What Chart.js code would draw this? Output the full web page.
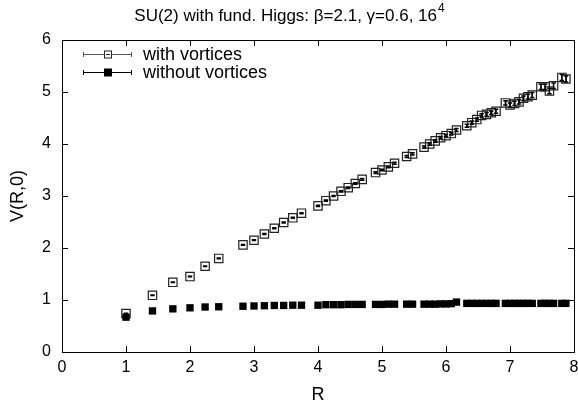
<!DOCTYPE html>
<html>
<head>
<meta charset="utf-8">
<script src="https://cdn.jsdelivr.net/npm/chart.js@4.4.0/dist/chart.umd.min.js"></script>
<style>
  html, body { margin: 0; padding: 0; background: #fff; }
  #wrap { width: 578px; height: 416px; }
</style>
</head>
<body>
<div id="wrap"><canvas id="potChart" width="578" height="416"></canvas></div>
<script>
// chart data
const titleText = 'SU(2) with fund. Higgs: \u03b2=2.1, \u03b3=0.6, 16';
const titleSup = '4';
const xLabel = 'R';
const yLabel = 'V(R,0)';
const seriesNames = ['with vortices', 'without vortices'];
const xTicks = [0, 1, 2, 3, 4, 5, 6, 7, 8];
const yTicks = [0, 1, 2, 3, 4, 5, 6];

const radii = [1, 1.414, 1.732, 2, 2.236, 2.449, 2.828, 3, 3.162, 3.317, 3.464, 3.606, 3.742,
  4, 4.123, 4.243, 4.359, 4.472, 4.583, 4.690, 4.899, 5, 5.099, 5.196, 5.385, 5.477,
  5.657, 5.745, 5.831, 5.916, 6, 6.083, 6.164, 6.325, 6.403, 6.481, 6.557, 6.633, 6.708,
  6.782, 6.928, 7, 7.071, 7.141, 7.211, 7.280, 7.348, 7.483, 7.550, 7.616, 7.681, 7.810, 7.874];

const withVortices = [0.74, 1.09, 1.34, 1.45, 1.65, 1.80, 2.06, 2.15, 2.27, 2.38, 2.49, 2.58, 2.67,
  2.81, 2.91, 3.00, 3.09, 3.16, 3.24, 3.32, 3.45, 3.50, 3.56, 3.63, 3.76, 3.81,
  3.94, 4.00, 4.06, 4.12, 4.16, 4.20, 4.27, 4.35, 4.41, 4.47, 4.55, 4.57, 4.60,
  4.63, 4.79, 4.75, 4.78, 4.81, 4.88, 4.91, 4.94, 5.10, 5.10, 5.02, 5.12, 5.28, 5.25];

const withVortErr = [0.005, 0.005, 0.005, 0.005, 0.005, 0.006, 0.006, 0.007, 0.008, 0.008, 0.009, 0.01, 0.01,
  0.01, 0.012, 0.012, 0.013, 0.014, 0.015, 0.015, 0.016, 0.016, 0.017, 0.018, 0.02, 0.02,
  0.022, 0.022, 0.024, 0.025, 0.025, 0.027, 0.028, 0.03, 0.03, 0.032, 0.033, 0.035, 0.035,
  0.037, 0.04, 0.04, 0.042, 0.043, 0.045, 0.046, 0.048, 0.05, 0.05, 0.052, 0.054, 0.058, 0.06];

const withoutVortices = [0.67, 0.79, 0.83, 0.85, 0.865, 0.87, 0.88, 0.885, 0.89, 0.895, 0.895, 0.90, 0.90,
  0.90, 0.91, 0.91, 0.91, 0.915, 0.915, 0.915, 0.915, 0.915, 0.92, 0.92, 0.92, 0.92,
  0.92, 0.92, 0.92, 0.925, 0.925, 0.93, 0.96, 0.935, 0.935, 0.935, 0.935, 0.935, 0.935,
  0.935, 0.935, 0.935, 0.935, 0.935, 0.935, 0.935, 0.935, 0.935, 0.935, 0.935, 0.935, 0.935, 0.935];

const FONT = '"Liberation Sans", Arial, Helvetica, sans-serif';
const PLOT = { left: 62, top: 40, right: 574, bottom: 352 };

// frame, inward ticks, titles, legend and error bars (gnuplot look)
const gnuplotBits = {
  id: 'gnuplotBits',
  afterLayout(chart) {
    // pin the plot box where the reference has it
    const xs = chart.scales.x, ys = chart.scales.y;
    Object.assign(chart.chartArea, PLOT);
    chart.chartArea.width = PLOT.right - PLOT.left;
    chart.chartArea.height = PLOT.bottom - PLOT.top;
    xs.left = PLOT.left; xs.right = PLOT.right; xs.width = PLOT.right - PLOT.left;
    xs.top = PLOT.bottom; xs.bottom = 416; xs.height = 416 - PLOT.bottom;
    ys.top = PLOT.top; ys.bottom = PLOT.bottom; ys.height = PLOT.bottom - PLOT.top;
    ys.left = 0; ys.right = PLOT.left; ys.width = PLOT.left;
    xs.configure();
    ys.configure();
  },
  afterDatasetDraw(chart, args) {
    if (args.index !== 1) return;
    const ctx = chart.ctx;
    const xs = chart.scales.x, ys = chart.scales.y;
    ctx.save();
    ctx.strokeStyle = '#000';
    ctx.lineWidth = 1.5;
    radii.forEach((r, i) => {
      const px = xs.getPixelForValue(r);
      const top = ys.getPixelForValue(withVortices[i] + withVortErr[i]);
      const bot = ys.getPixelForValue(withVortices[i] - withVortErr[i]);
      ctx.beginPath();
      ctx.moveTo(px, top); ctx.lineTo(px, bot);
      ctx.moveTo(px - 2.2, top); ctx.lineTo(px + 2.2, top);
      ctx.moveTo(px - 2.2, bot); ctx.lineTo(px + 2.2, bot);
      ctx.stroke();
    });
    ctx.restore();
  },
  afterDraw(chart) {
    const ctx = chart.ctx;
    const a = chart.chartArea;
    const xs = chart.scales.x, ys = chart.scales.y;
    ctx.save();
    ctx.strokeStyle = '#000';
    ctx.lineWidth = 1;
    ctx.strokeRect(Math.round(a.left) + 0.5, Math.round(a.top) + 0.5,
      Math.round(a.right - a.left), Math.round(a.bottom - a.top));
    ctx.beginPath();
    xTicks.forEach(v => {
      const px = Math.round(xs.getPixelForValue(v)) + 0.5;
      ctx.moveTo(px, a.bottom); ctx.lineTo(px, a.bottom - 6);
      ctx.moveTo(px, a.top); ctx.lineTo(px, a.top + 6);
    });
    yTicks.forEach(v => {
      const py = Math.round(ys.getPixelForValue(v)) + 0.5;
      ctx.moveTo(a.left, py); ctx.lineTo(a.left + 6, py);
      ctx.moveTo(a.right, py); ctx.lineTo(a.right - 6, py);
    });
    ctx.stroke();

    // title with superscript
    ctx.fillStyle = '#000';
    ctx.font = '17px ' + FONT;
    ctx.textBaseline = 'alphabetic';
    const w1 = ctx.measureText(titleText).width;
    ctx.font = '12px ' + FONT;
    const w2 = ctx.measureText(titleSup).width;
    const tx = 289 - (w1 + w2) / 2;
    ctx.font = '17px ' + FONT;
    ctx.textAlign = 'left';
    ctx.fillText(titleText, tx, 21);
    ctx.font = '12px ' + FONT;
    ctx.fillText(titleSup, tx + w1 + 1, 12);

    // axis titles
    ctx.font = '18px ' + FONT;
    ctx.textAlign = 'center';
    ctx.textBaseline = 'middle';
    ctx.fillText(xLabel, 318, 395);
    ctx.save();
    ctx.translate(18, (a.top + a.bottom) / 2);
    ctx.rotate(-Math.PI / 2);
    ctx.fillText(yLabel, 0, 0);
    ctx.restore();

    // legend
    const rows = [
      { y: 54, color: '#555', fill: false },
      { y: 72, color: '#000', fill: true }
    ];
    rows.forEach((row, i) => {
      const y = row.y + 0.5;
      ctx.strokeStyle = row.color;
      ctx.lineWidth = 1;
      ctx.beginPath();
      ctx.moveTo(83, y); ctx.lineTo(132, y);
      ctx.moveTo(83.5, y - 2.5); ctx.lineTo(83.5, y + 2.5);
      ctx.moveTo(131.5, y - 2.5); ctx.lineTo(131.5, y + 2.5);
      ctx.stroke();
      if (row.fill) {
        ctx.fillStyle = '#000';
        ctx.fillRect(104, y - 4, 8, 8);
      } else {
        ctx.fillStyle = '#fff';
        ctx.fillRect(104, y - 4, 8, 8);
        ctx.strokeStyle = '#222';
        ctx.strokeRect(104.5, y - 3.5, 7, 7);
        ctx.beginPath();
        ctx.moveTo(106, y); ctx.lineTo(110, y);
        ctx.stroke();
      }
      ctx.fillStyle = '#000';
      ctx.font = '18px ' + FONT;
      ctx.textAlign = 'left';
      ctx.textBaseline = 'middle';
      ctx.fillText(seriesNames[i], 143, row.y + 1);
    });
    ctx.restore();
  }
};

const ctx = document.getElementById('potChart').getContext('2d');
const potChart = new Chart(ctx, {
  type: 'scatter',
  data: {
    datasets: [
      {
        label: seriesNames[1],
        data: radii.map((r, i) => ({ x: r, y: withoutVortices[i] })),
        pointStyle: 'rect',
        pointRadius: 5.2,
        backgroundColor: '#000',
        borderColor: '#000',
        borderWidth: 0,
        order: 1
      },
      {
        label: seriesNames[0],
        data: radii.map((r, i) => ({ x: r, y: withVortices[i] })),
        pointStyle: 'rect',
        pointRadius: 5.9,
        backgroundColor: 'rgba(255,255,255,0)',
        borderColor: '#222',
        borderWidth: 1.2,
        order: 2
      }
    ]
  },
  options: {
    responsive: false,
    animation: false,
    devicePixelRatio: 1,
    layout: { padding: { top: 40, right: 4, left: 0, bottom: 0 } },
    plugins: {
      legend: { display: false },
      title: { display: false },
      tooltip: { enabled: false }
    },
    scales: {
      x: {
        type: 'linear',
        min: 0,
        max: 8,
        afterBuildTicks: s => { s.ticks = xTicks.map(v => ({ value: v })); },
        afterFit: s => { s.height = 64; },
        grid: { display: false, drawTicks: false },
        border: { display: false },
        ticks: { color: '#000', padding: 6, font: { family: FONT, size: 16 } }
      },
      y: {
        type: 'linear',
        min: 0,
        max: 6,
        afterBuildTicks: s => { s.ticks = yTicks.map(v => ({ value: v })); },
        afterFit: s => { s.width = 62; },
        grid: { display: false, drawTicks: false },
        border: { display: false },
        ticks: { color: '#000', padding: 11, font: { family: FONT, size: 16 } }
      }
    }
  },
  plugins: [gnuplotBits]
});
</script>
</body>
</html>
